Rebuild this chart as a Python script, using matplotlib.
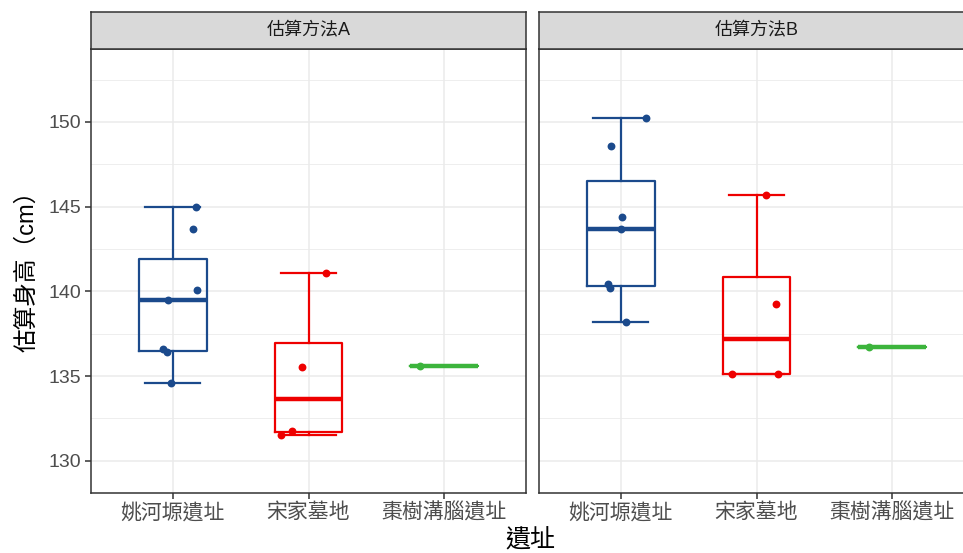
import matplotlib
matplotlib.use("Agg")
import matplotlib.pyplot as plt

plt.rcParams["font.family"] = ["Liberation Sans", "Noto Sans CJK TC", "DejaVu Sans"]

# ── 資料 ──────────────────────────────────────────────
sites = ["姚河塬遺址", "宋家墓地", "棗樹溝腦遺址"]
methods = ["估算方法A", "估算方法B"]

# 估算方法A
a_yaohe = [145.0, 143.7, 140.1, 139.5, 136.6, 136.4, 134.6]
a_songjia = [141.1, 135.55, 131.75, 131.5]
a_zaoshu = [135.6]
# 估算方法B
b_yaohe = [150.2, 148.6, 144.4, 143.7, 140.45, 140.2, 138.2]
b_songjia = [145.7, 139.25, 135.1, 135.1]
b_zaoshu = [136.7]

# 抖動位移
a_yaohe_dx = [0.17, 0.15, 0.18, -0.03, -0.07, -0.04, -0.01]
a_songjia_dx = [0.13, -0.05, -0.12, -0.20]
a_zaoshu_dx = [-0.18]
b_yaohe_dx = [0.19, -0.07, 0.01, 0.0, -0.09, -0.08, 0.04]
b_songjia_dx = [0.07, 0.14, -0.18, 0.16]
b_zaoshu_dx = [-0.17]

yticks = [130, 135, 140, 145, 150]
yminor = [132.5, 137.5, 142.5, 147.5, 152.5]

COLORS = ["#1B4A8C", "#EE0000", "#3CB43C"]
GRID = "#EBEBEB"
STRIP_BG = "#D9D9D9"
FRAME = "#333333"

W, H = 963, 553
fig = plt.figure(figsize=(W / 100, H / 100), dpi=100)


def px(x0, y0, x1, y1):
    # 像素座標 → 圖形比例
    return [x0 / W, 1 - y1 / H, (x1 - x0) / W, (y1 - y0) / H]


panels = [
    (methods[0], [a_yaohe, a_songjia, a_zaoshu], [a_yaohe_dx, a_songjia_dx, a_zaoshu_dx], 91),
    (methods[1], [b_yaohe, b_songjia, b_zaoshu], [b_yaohe_dx, b_songjia_dx, b_zaoshu_dx], 539),
]
pw = 435

for i, (title, groups, offsets, left) in enumerate(panels):
    ax = fig.add_axes(px(left, 49, left + pw, 493))
    ax.set_facecolor("white")
    ax.set_xlim(0.4, 3.6)
    ax.set_ylim(128.1, 154.3)

    # 網格
    for y in yticks:
        ax.axhline(y, color=GRID, lw=1.1, zorder=0)
    for y in yminor:
        ax.axhline(y, color=GRID, lw=0.6, zorder=0)
    for x in [1, 2, 3]:
        ax.axvline(x, color=GRID, lw=1.1, zorder=0)

    for k, (vals, dx) in enumerate(zip(groups, offsets)):
        c = COLORS[k]
        ax.boxplot(
            vals, positions=[k + 1], widths=0.5, capwidths=0.4, whis=1.5,
            patch_artist=False, manage_ticks=False, showfliers=False,
            boxprops=dict(color=c, lw=1.6),
            whiskerprops=dict(color=c, lw=1.6),
            capprops=dict(color=c, lw=1.6),
            medianprops=dict(color=c, lw=3.2, solid_capstyle="butt"),
            zorder=2,
        )
        ax.scatter([k + 1 + d for d in dx], vals, s=32, color=c, zorder=3, linewidths=0)

    ax.set_xticks([1, 2, 3])
    ax.set_xticklabels(sites, fontsize=15, color="#4D4D4D")
    ax.tick_params(axis="x", length=4, width=1.1, color=FRAME, pad=3)
    if i == 0:
        ax.set_yticks(yticks)
        ax.set_yticklabels([str(v) for v in yticks], fontsize=14, color="#4D4D4D")
        ax.tick_params(axis="y", length=4, width=1.1, color=FRAME, pad=3)
    else:
        ax.set_yticks([])
    for s in ax.spines.values():
        s.set_color(FRAME)
        s.set_linewidth(1.1)

    # 分面標題
    sax = fig.add_axes(px(left, 12, left + pw, 49))
    sax.set_facecolor(STRIP_BG)
    sax.set_xticks([])
    sax.set_yticks([])
    for s in sax.spines.values():
        s.set_color(FRAME)
        s.set_linewidth(1.1)
    sax.text(0.5, 0.5, title, ha="center", va="center", fontsize=13,
             color="#1A1A1A", transform=sax.transAxes)

fig.text(27 / W, 1 - 265 / H, "估算身高（cm）", rotation=90, ha="center", va="center",
         fontsize=17, color="black")
fig.text(530 / W, 1 - 540 / H, "遺址", ha="center", va="center", fontsize=18, color="black")

fig.savefig("out.png", dpi=100)
